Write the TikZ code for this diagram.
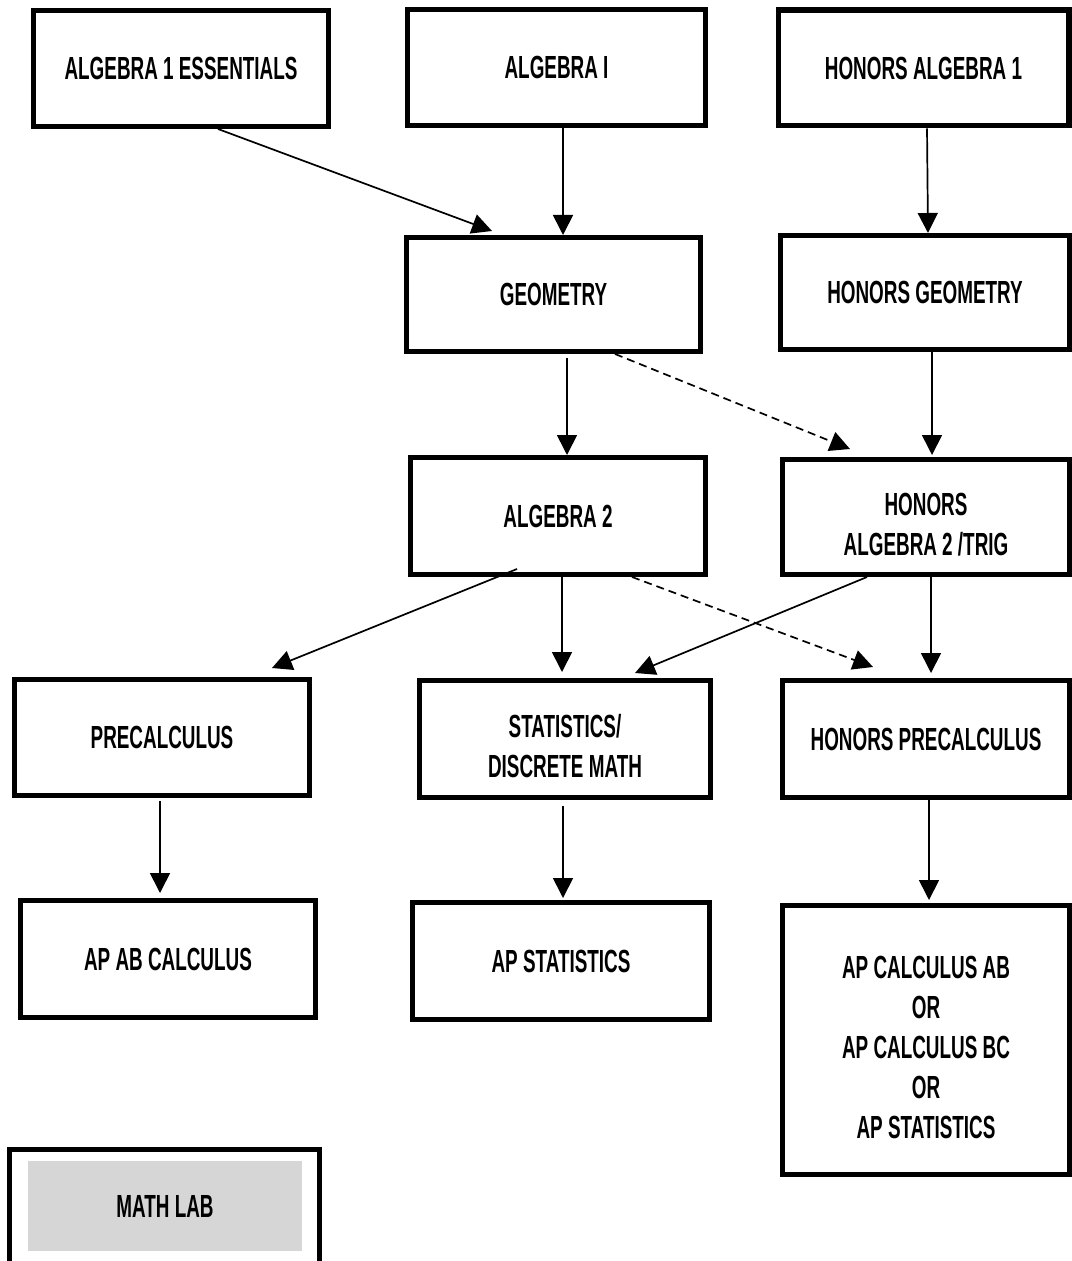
\documentclass[tikz,border=0pt]{standalone}
\usepackage{fontspec}
\setmainfont{Liberation Sans}[FakeStretch=0.59]
\usetikzlibrary{arrows.meta}
\definecolor{labgray}{HTML}{D6D6D6}
\newcommand{\lowtext}[1]{\raisebox{-5pt}[\height][\depth]{\begin{tabular}{@{}c@{}}#1\end{tabular}}}

\begin{document}
\begin{tikzpicture}[x=0.5pt,y=-0.5pt,font=\fontsize{16}{20}\selectfont\bfseries,
  box/.style={draw=black,line width=2.7pt,fill=white,align=center,minimum width=147.3pt,minimum height=57.8pt,inner sep=2pt},
  flow/.style={-{Triangle[length=10pt,width=10pt]},line width=0.85pt},
  maybe/.style={flow,dash pattern=on 4pt off 2.5pt}]
\useasboundingbox (0,0) rectangle (1071,1261);
% row 1
\node[box] (ess) at (181,68.5) {ALGEBRA 1 ESSENTIALS};
\node[box,minimum width=148.8pt] (alg1) at (556.5,67.5) {ALGEBRA I};
\node[box,minimum width=145.3pt] (hon1) at (923.5,68) {HONORS ALGEBRA 1};
% row 2
\node[box,minimum width=146.8pt,minimum height=56.8pt] (geo) at (553.5,294.5) {GEOMETRY};
\node[box,minimum width=144.3pt,minimum height=56.8pt] (hgeo) at (925,292.5) {HONORS GEOMETRY};
% row 3
\node[box,minimum height=58.3pt] (alg2) at (558,516) {ALGEBRA 2};
\node[box,minimum width=143.3pt,minimum height=57.3pt] (halg2) at (926,517) {\lowtext{HONORS\\ALGEBRA 2 /TRIG}};
% row 4
\node[box] (pre) at (162,737.5) {PRECALCULUS};
\node[box,minimum width=145.3pt,minimum height=58.3pt] (stat) at (565,739) {\lowtext{STATISTICS/\\DISCRETE MATH}};
\node[box,minimum width=143.3pt,minimum height=58.3pt] (hpre) at (926,739) {HONORS PRECALCULUS};
% row 5
\node[box,minimum height=58.3pt] (apab) at (168,959) {AP AB CALCULUS};
\node[box,minimum width=148.3pt,minimum height=58.3pt] (apstat) at (561,961) {AP STATISTICS};
\node[box,minimum width=143.3pt,minimum height=134.3pt] (apcalc) at (926,1040) {\lowtext{AP CALCULUS AB\\OR\\AP CALCULUS BC\\OR\\AP STATISTICS}};
% math lab
\node[box,minimum width=154.8pt,minimum height=63.8pt] (labframe) at (164.5,1213.5) {};
\node[fill=labgray,minimum width=137pt,minimum height=45pt,inner sep=0pt] (lab) at (165,1206) {MATH LAB};
% connectors
\draw[flow] ([xshift=18.5pt]ess.south) -- ([xshift=-30.75pt,yshift=2pt]geo.north);
\draw[flow] ([xshift=3.25pt]alg1.south) -- ([xshift=4.75pt]geo.north);
\draw[flow] ([xshift=1.75pt]hon1.south) -- ([xshift=1.5pt]hgeo.north);
\draw[flow] ([xshift=6.75pt,yshift=-2pt]geo.south) -- ([xshift=4.5pt]alg2.north);
\draw[maybe] ([xshift=30.75pt]geo.south) -- ([xshift=-38pt,yshift=4pt]halg2.north);
\draw[flow] ([xshift=3.5pt]hgeo.south) -- ([xshift=3pt,yshift=1pt]halg2.north);
\draw[flow] ([xshift=-20.5pt,yshift=4pt]alg2.south) -- ([xshift=55pt,yshift=4.5pt]pre.north);
\draw[flow] ([xshift=2pt]alg2.south) -- ([xshift=-1.5pt,yshift=3pt]stat.north);
\draw[maybe] ([xshift=37pt]alg2.south) -- ([xshift=-26.5pt,yshift=5.5pt]hpre.north);
\draw[flow] ([xshift=-29.5pt]halg2.south) -- ([xshift=35pt,yshift=2.5pt]stat.north);
\draw[flow] ([xshift=2.5pt]halg2.south) -- ([xshift=2.5pt,yshift=2.5pt]hpre.north);
\draw[flow] ([xshift=-1pt,yshift=-1.5pt]pre.south) -- ([xshift=-4pt,yshift=2.5pt]apab.north);
\draw[flow] ([xshift=-1pt,yshift=-3pt]stat.south) -- ([xshift=1pt,yshift=1pt]apstat.north);
\draw[flow] ([xshift=1.5pt]hpre.south) -- ([xshift=1.5pt,yshift=1.5pt]apcalc.north);
\end{tikzpicture}
\end{document}
